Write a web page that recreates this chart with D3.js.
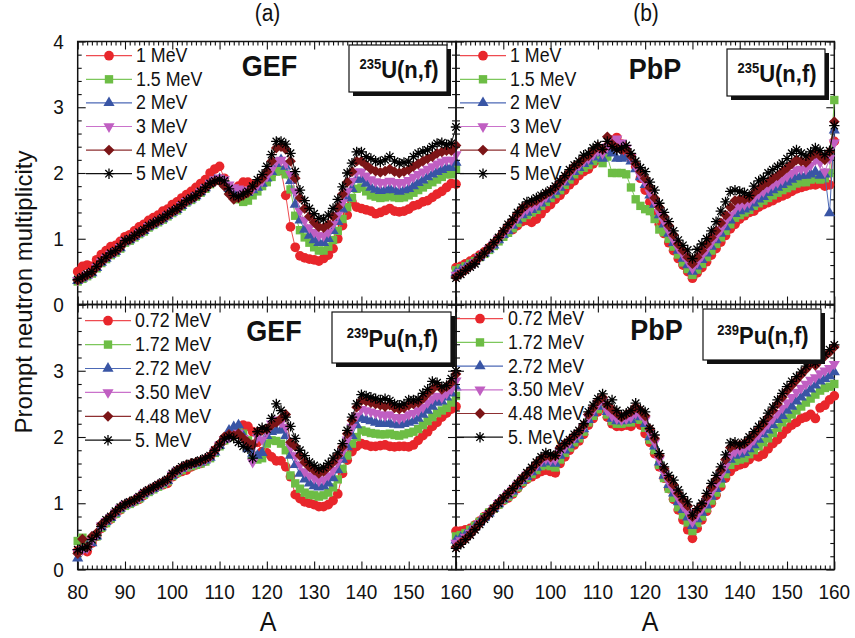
<!DOCTYPE html>
<html>
<head>
<meta charset="utf-8">
<script src="https://cdn.jsdelivr.net/npm/d3@7"></script>
<style>
  body { margin: 0; background: #fff; }
  text { font-family: "Liberation Sans", Arial, sans-serif; fill: #111; }
</style>
</head>
<body>
<script>
// mass number A = 80 ... 160, one value per A
const massA = d3.range(80, 161);

const energiesU = ["1 MeV", "1.5 MeV", "2 MeV", "3 MeV", "4 MeV", "5 MeV"];
const energiesPu = ["0.72 MeV", "1.72 MeV", "2.72 MeV", "3.50 MeV", "4.48 MeV", "5. MeV"];
const xTicksLeft = [80, 90, 100, 110, 120, 130, 140, 150, 160];
const xTicksRight = [90, 100, 110, 120, 130, 140, 150, 160];
const yTicksTop = [0, 1, 2, 3, 4];
const yTicksBottom = [0, 1, 2, 3];

// ---- GEF, 235U(n,f)
const gefU_1 = [0.50,0.58,0.60,0.58,0.68,0.76,0.82,0.88,0.90,0.96,
  1.03,1.06,1.12,1.18,1.22,1.28,1.32,1.36,1.42,1.45,
  1.52,1.56,1.62,1.67,1.72,1.78,1.84,1.90,2.00,2.06,
  2.10,1.92,1.74,1.70,1.80,1.86,1.86,1.82,1.82,1.88,
  1.92,1.98,2.06,2.04,1.66,1.18,0.87,0.74,0.71,0.69,
  0.68,0.66,0.70,0.75,0.85,1.00,1.20,1.36,1.56,1.48,
  1.46,1.44,1.42,1.38,1.40,1.43,1.46,1.42,1.41,1.42,
  1.45,1.50,1.52,1.56,1.58,1.63,1.68,1.72,1.78,1.84,
  1.83];
const gefU_15 = [0.35,0.39,0.43,0.47,0.55,0.63,0.69,0.75,0.79,0.85,
  0.94,0.97,1.02,1.07,1.11,1.17,1.21,1.25,1.29,1.34,
  1.39,1.43,1.49,1.55,1.59,1.64,1.70,1.76,1.83,1.88,
  1.90,1.84,1.72,1.66,1.60,1.56,1.58,1.66,1.72,1.80,
  1.86,1.94,2.02,2.04,1.98,1.75,1.35,1.13,1.02,0.94,
  0.87,0.82,0.82,0.88,0.98,1.12,1.30,1.48,1.62,1.76,
  1.78,1.72,1.66,1.64,1.62,1.63,1.65,1.63,1.62,1.63,
  1.66,1.70,1.74,1.78,1.82,1.86,1.90,1.94,1.98,1.98,
  2.06];
const gefU_2 = [0.36,0.40,0.44,0.48,0.56,0.64,0.70,0.76,0.80,0.86,
  0.95,0.98,1.03,1.08,1.12,1.18,1.22,1.26,1.30,1.35,
  1.40,1.44,1.50,1.56,1.60,1.65,1.71,1.77,1.84,1.89,
  1.91,1.86,1.76,1.72,1.70,1.68,1.70,1.74,1.78,1.84,
  1.92,2.02,2.14,2.20,2.10,1.88,1.52,1.28,1.14,1.05,
  0.98,0.94,0.94,1.00,1.12,1.26,1.45,1.62,1.76,1.90,
  1.90,1.84,1.78,1.75,1.73,1.74,1.76,1.74,1.72,1.74,
  1.76,1.80,1.85,1.89,1.94,1.98,2.02,2.05,2.08,2.08,
  2.16];
const gefU_3 = [0.37,0.41,0.45,0.49,0.57,0.65,0.71,0.77,0.81,0.87,
  0.96,0.99,1.04,1.09,1.13,1.19,1.23,1.27,1.31,1.36,
  1.41,1.45,1.51,1.57,1.61,1.66,1.72,1.78,1.85,1.90,
  1.93,1.90,1.82,1.78,1.76,1.74,1.72,1.76,1.82,1.88,
  1.95,2.05,2.18,2.20,2.15,1.98,1.72,1.42,1.28,1.17,
  1.10,1.05,1.05,1.10,1.22,1.36,1.55,1.72,1.88,2.02,
  2.02,1.96,1.90,1.87,1.85,1.86,1.88,1.86,1.84,1.86,
  1.89,1.94,1.98,2.02,2.06,2.10,2.14,2.17,2.20,2.20,
  2.28];
const gefU_4 = [0.37,0.41,0.45,0.49,0.57,0.65,0.71,0.77,0.81,0.87,
  0.96,0.99,1.04,1.09,1.13,1.19,1.23,1.27,1.31,1.36,
  1.41,1.45,1.51,1.57,1.61,1.65,1.71,1.77,1.83,1.87,
  1.88,1.80,1.68,1.60,1.62,1.66,1.70,1.80,1.86,1.92,
  2.02,2.18,2.38,2.40,2.36,2.18,1.92,1.62,1.46,1.34,
  1.25,1.18,1.17,1.22,1.34,1.48,1.68,1.86,2.02,2.18,
  2.18,2.12,2.06,2.03,2.01,2.03,2.06,2.02,2.00,2.02,
  2.05,2.10,2.14,2.18,2.22,2.25,2.30,2.32,2.34,2.34,
  2.42];
const gefU_5 = [0.38,0.42,0.46,0.50,0.58,0.66,0.72,0.78,0.82,0.88,
  0.97,1.00,1.05,1.10,1.14,1.20,1.24,1.28,1.32,1.37,
  1.42,1.46,1.52,1.58,1.62,1.66,1.72,1.78,1.84,1.88,
  1.90,1.88,1.76,1.66,1.64,1.68,1.72,1.80,1.90,1.98,
  2.10,2.28,2.48,2.48,2.44,2.30,2.02,1.74,1.58,1.46,
  1.38,1.31,1.30,1.36,1.46,1.60,1.79,2.00,2.15,2.32,
  2.32,2.25,2.22,2.18,2.17,2.20,2.25,2.18,2.15,2.16,
  2.17,2.25,2.30,2.33,2.35,2.40,2.45,2.46,2.43,2.45,
  2.70];

// ---- PbP, 235U(n,f)
const pbpU_1 = [0.56,0.58,0.62,0.66,0.70,0.75,0.80,0.86,0.92,0.98,
  1.04,1.10,1.14,1.20,1.26,1.28,1.25,1.30,1.38,1.46,
  1.52,1.60,1.66,1.74,1.82,1.88,1.96,2.02,2.06,2.14,
  2.20,2.30,2.40,2.50,2.54,2.44,2.32,2.22,2.10,1.92,
  1.74,1.56,1.38,1.22,1.08,0.94,0.82,0.70,0.60,0.50,
  0.40,0.48,0.56,0.65,0.75,0.85,0.95,1.05,1.15,1.22,
  1.30,1.35,1.40,1.42,1.48,1.52,1.55,1.58,1.62,1.65,
  1.68,1.72,1.76,1.78,1.80,1.82,1.82,1.84,1.80,1.82,
  2.48];
const pbpU_15 = [0.52,0.55,0.58,0.62,0.66,0.72,0.77,0.83,0.89,0.96,
  1.03,1.09,1.16,1.24,1.32,1.36,1.40,1.44,1.50,1.56,
  1.62,1.68,1.74,1.82,1.90,1.98,2.04,2.08,2.12,2.18,
  2.22,2.15,2.25,2.00,2.00,2.00,1.98,1.78,1.60,1.50,
  1.45,1.42,1.30,1.14,1.10,1.00,0.88,0.76,0.64,0.54,
  0.45,0.53,0.62,0.72,0.82,0.92,1.02,1.12,1.22,1.32,
  1.36,1.40,1.44,1.50,1.54,1.58,1.62,1.66,1.70,1.74,
  1.77,1.80,1.84,1.86,1.86,1.90,1.92,1.90,1.92,2.00,
  3.11];
const pbpU_2 = [0.48,0.52,0.56,0.60,0.65,0.72,0.78,0.84,0.90,0.98,
  1.06,1.12,1.20,1.28,1.36,1.40,1.44,1.48,1.54,1.60,
  1.66,1.72,1.78,1.86,1.94,2.02,2.08,2.14,2.18,2.24,
  2.30,2.22,2.34,2.30,2.22,2.22,2.24,2.18,2.06,1.94,
  1.82,1.66,1.52,1.36,1.22,1.08,0.94,0.82,0.70,0.60,
  0.50,0.58,0.68,0.78,0.88,0.98,1.08,1.18,1.28,1.38,
  1.42,1.45,1.48,1.54,1.60,1.64,1.70,1.74,1.78,1.82,
  1.86,1.90,1.94,1.96,1.96,1.98,2.02,1.96,1.98,1.39,
  2.65];
const pbpU_3 = [0.45,0.49,0.54,0.59,0.64,0.72,0.78,0.85,0.92,1.00,
  1.08,1.16,1.24,1.32,1.40,1.45,1.48,1.52,1.58,1.64,
  1.70,1.76,1.82,1.90,1.98,2.06,2.12,2.18,2.22,2.28,
  2.34,2.30,2.40,2.48,2.52,2.46,2.38,2.24,2.10,1.96,
  1.86,1.70,1.56,1.40,1.26,1.12,0.98,0.86,0.76,0.66,
  0.55,0.64,0.74,0.84,0.94,1.04,1.14,1.26,1.36,1.46,
  1.50,1.52,1.55,1.62,1.68,1.72,1.78,1.82,1.86,1.90,
  1.95,2.00,2.05,2.06,2.06,2.12,2.20,2.16,2.02,2.22,
  2.46];
const pbpU_4 = [0.42,0.47,0.52,0.58,0.64,0.72,0.79,0.86,0.94,1.02,
  1.11,1.20,1.28,1.38,1.46,1.52,1.55,1.58,1.63,1.68,
  1.72,1.78,1.86,1.94,2.02,2.10,2.15,2.22,2.26,2.34,
  2.40,2.36,2.55,2.44,2.38,2.36,2.36,2.26,2.14,2.02,
  1.92,1.78,1.62,1.48,1.34,1.20,1.06,0.92,0.82,0.72,
  0.62,0.72,0.82,0.92,1.02,1.12,1.24,1.36,1.48,1.58,
  1.60,1.60,1.62,1.70,1.76,1.82,1.86,1.92,1.96,2.02,
  2.08,2.14,2.20,2.18,2.16,2.24,2.30,2.26,2.20,2.32,
  2.78];
const pbpU_5 = [0.40,0.46,0.52,0.57,0.62,0.72,0.78,0.86,0.94,1.02,
  1.12,1.22,1.30,1.40,1.48,1.56,1.58,1.62,1.66,1.70,
  1.74,1.80,1.88,1.96,2.05,2.12,2.18,2.27,2.30,2.38,
  2.43,2.36,2.48,2.40,2.35,2.38,2.42,2.30,2.18,2.08,
  2.02,1.86,1.74,1.54,1.40,1.26,1.12,0.98,0.90,0.83,
  0.70,0.84,0.92,1.00,1.12,1.26,1.42,1.56,1.72,1.74,
  1.72,1.70,1.66,1.80,1.88,1.92,2.00,2.05,2.10,2.15,
  2.22,2.30,2.35,2.30,2.26,2.32,2.38,2.34,2.28,2.34,
  2.72];

// ---- GEF, 239Pu(n,f)
const gefPu_072 = [0.28,0.30,0.27,0.40,0.50,0.62,0.70,0.76,0.84,0.90,
  0.97,1.00,1.03,1.06,1.12,1.18,1.22,1.26,1.28,1.30,
  1.40,1.45,1.48,1.50,1.55,1.58,1.60,1.64,1.70,1.80,
  1.88,1.95,2.00,2.05,2.10,2.18,2.16,2.08,1.92,1.78,
  1.76,1.70,1.64,1.64,1.55,1.40,1.13,1.07,1.02,1.00,
  0.98,0.95,0.95,0.98,1.04,1.14,1.45,1.65,1.78,1.86,
  1.90,1.88,1.86,1.86,1.87,1.88,1.86,1.85,1.86,1.86,
  1.85,1.88,1.95,2.02,2.08,2.16,2.22,2.30,2.36,2.42,
  2.46];
const gefPu_172 = [0.43,0.48,0.40,0.42,0.50,0.63,0.70,0.77,0.84,0.91,
  0.96,0.99,1.03,1.07,1.13,1.17,1.21,1.25,1.29,1.33,
  1.41,1.46,1.50,1.54,1.56,1.58,1.60,1.63,1.68,1.76,
  1.86,1.95,2.00,2.05,2.08,2.05,1.95,1.72,1.66,1.68,
  1.90,1.95,1.94,1.90,1.80,1.42,1.30,1.22,1.16,1.13,
  1.12,1.10,1.12,1.16,1.24,1.36,1.52,1.72,1.90,2.00,
  2.10,2.08,2.06,2.05,2.04,2.04,2.05,2.03,2.02,2.04,
  2.06,2.08,2.12,2.18,2.24,2.30,2.36,2.40,2.44,2.52,
  2.62];
const gefPu_272 = [0.17,0.30,0.35,0.40,0.50,0.64,0.72,0.78,0.85,0.92,
  0.97,1.00,1.04,1.08,1.14,1.18,1.22,1.26,1.30,1.34,
  1.42,1.48,1.52,1.56,1.58,1.60,1.62,1.65,1.69,1.77,
  1.87,1.96,2.10,2.15,2.18,2.02,1.82,1.75,1.72,1.76,
  2.02,2.08,2.10,2.10,2.02,1.72,1.58,1.45,1.36,1.30,
  1.26,1.24,1.26,1.30,1.38,1.50,1.66,1.85,2.02,2.18,
  2.28,2.26,2.24,2.22,2.20,2.20,2.21,2.19,2.18,2.20,
  2.22,2.24,2.28,2.34,2.40,2.46,2.52,2.54,2.60,2.66,
  2.75];
const gefPu_350 = [0.26,0.30,0.32,0.44,0.52,0.66,0.73,0.79,0.86,0.93,
  0.98,1.01,1.04,1.09,1.15,1.19,1.23,1.27,1.31,1.35,
  1.43,1.49,1.53,1.57,1.59,1.61,1.63,1.66,1.70,1.78,
  1.88,1.96,2.00,2.04,2.06,1.98,1.90,1.62,2.00,1.96,
  2.08,2.20,2.26,2.22,2.15,1.85,1.72,1.58,1.48,1.42,
  1.38,1.34,1.36,1.42,1.50,1.62,1.78,1.96,2.15,2.32,
  2.42,2.40,2.38,2.36,2.34,2.32,2.34,2.30,2.28,2.30,
  2.34,2.36,2.40,2.45,2.52,2.58,2.62,2.60,2.66,2.72,
  2.85];
const gefPu_448 = [0.24,0.46,0.34,0.50,0.55,0.68,0.74,0.80,0.87,0.94,
  0.98,1.02,1.05,1.10,1.16,1.20,1.24,1.28,1.32,1.36,
  1.44,1.50,1.54,1.58,1.60,1.62,1.64,1.67,1.71,1.80,
  1.90,2.00,2.04,2.02,2.05,1.98,1.92,1.88,2.08,2.10,
  2.12,2.18,2.22,2.28,2.34,1.92,1.86,1.72,1.62,1.55,
  1.50,1.45,1.48,1.55,1.62,1.72,1.85,2.05,2.25,2.45,
  2.55,2.54,2.52,2.50,2.48,2.46,2.48,2.44,2.42,2.44,
  2.48,2.50,2.52,2.58,2.66,2.72,2.78,2.72,2.76,2.82,
  2.95];
const gefPu_5 = [0.30,0.32,0.34,0.45,0.52,0.65,0.75,0.80,0.88,0.94,
  0.99,1.02,1.05,1.10,1.16,1.20,1.24,1.28,1.32,1.36,
  1.45,1.50,1.55,1.58,1.60,1.62,1.65,1.68,1.72,1.80,
  1.88,1.97,2.01,1.98,1.92,1.86,1.82,1.68,2.08,2.14,
  2.12,2.28,2.50,2.40,2.30,2.16,1.98,1.80,1.72,1.62,
  1.57,1.52,1.54,1.60,1.68,1.76,1.90,2.10,2.30,2.50,
  2.64,2.62,2.60,2.58,2.56,2.58,2.55,2.50,2.48,2.50,
  2.56,2.56,2.57,2.66,2.72,2.84,2.82,2.76,2.78,2.88,
  3.00];

// ---- PbP, 239Pu(n,f)
const pbpPu_072 = [0.58,0.58,0.60,0.62,0.67,0.73,0.80,0.86,0.92,0.98,
  1.04,1.08,1.14,1.22,1.30,1.36,1.40,1.44,1.48,1.50,
  1.48,1.46,1.60,1.70,1.80,1.88,1.94,2.04,2.18,2.28,
  2.38,2.44,2.30,2.20,2.16,2.16,2.18,2.16,2.22,2.18,
  2.05,1.92,1.75,1.55,1.38,1.22,1.06,0.90,0.75,0.60,
  0.47,0.62,0.75,0.88,1.00,1.12,1.25,1.38,1.48,1.55,
  1.58,1.60,1.66,1.72,1.70,1.74,1.82,1.90,1.96,2.04,
  2.12,2.18,2.22,2.28,2.30,2.34,2.28,2.44,2.48,2.56,
  2.62];
const pbpPu_172 = [0.50,0.52,0.55,0.60,0.66,0.72,0.79,0.86,0.92,0.98,
  1.05,1.10,1.16,1.24,1.32,1.38,1.44,1.50,1.56,1.58,
  1.56,1.54,1.66,1.76,1.84,1.92,1.98,2.08,2.22,2.32,
  2.42,2.48,2.34,2.24,2.20,2.20,2.22,2.22,2.28,2.26,
  2.14,1.96,1.80,1.58,1.38,1.22,1.08,0.94,0.82,0.71,
  0.58,0.70,0.80,0.92,1.04,1.16,1.30,1.44,1.58,1.64,
  1.66,1.68,1.74,1.80,1.86,1.92,1.98,2.06,2.14,2.22,
  2.28,2.34,2.40,2.46,2.52,2.58,2.64,2.70,2.74,2.76,
  2.80];
const pbpPu_272 = [0.44,0.48,0.52,0.57,0.64,0.71,0.78,0.85,0.92,0.99,
  1.06,1.12,1.18,1.26,1.34,1.40,1.47,1.54,1.60,1.64,
  1.62,1.60,1.72,1.80,1.88,1.96,2.02,2.12,2.26,2.36,
  2.46,2.52,2.38,2.28,2.24,2.24,2.25,2.26,2.32,2.30,
  2.20,2.00,1.86,1.62,1.42,1.28,1.15,1.02,0.90,0.79,
  0.66,0.76,0.86,0.97,1.10,1.22,1.36,1.50,1.66,1.72,
  1.74,1.76,1.82,1.88,1.96,2.04,2.10,2.18,2.26,2.32,
  2.40,2.46,2.54,2.60,2.66,2.72,2.78,2.84,2.88,2.92,
  2.98];
const pbpPu_350 = [0.40,0.44,0.49,0.55,0.62,0.70,0.77,0.84,0.92,1.00,
  1.07,1.14,1.20,1.28,1.36,1.43,1.50,1.57,1.64,1.68,
  1.66,1.66,1.78,1.85,1.92,1.99,2.05,2.15,2.30,2.40,
  2.50,2.55,2.40,2.32,2.28,2.26,2.28,2.30,2.36,2.34,
  2.26,2.06,1.92,1.66,1.46,1.32,1.20,1.08,0.96,0.86,
  0.72,0.82,0.92,1.03,1.16,1.28,1.42,1.56,1.72,1.78,
  1.80,1.82,1.88,1.96,2.04,2.12,2.20,2.28,2.36,2.44,
  2.52,2.60,2.68,2.74,2.80,2.86,2.90,2.96,3.00,3.04,
  3.10];
const pbpPu_448 = [0.34,0.40,0.46,0.53,0.61,0.69,0.77,0.85,0.93,1.01,
  1.08,1.15,1.22,1.30,1.38,1.45,1.52,1.60,1.67,1.72,
  1.70,1.72,1.84,1.90,1.95,2.02,2.08,2.18,2.34,2.44,
  2.54,2.60,2.48,2.42,2.36,2.30,2.34,2.38,2.46,2.40,
  2.32,2.12,1.98,1.72,1.52,1.38,1.28,1.15,1.05,0.96,
  0.80,0.90,0.98,1.10,1.24,1.36,1.50,1.66,1.84,1.88,
  1.88,1.90,1.96,2.04,2.12,2.20,2.30,2.40,2.50,2.60,
  2.70,2.78,2.86,2.94,3.02,3.10,3.08,3.16,3.22,3.28,
  3.36];
const pbpPu_5 = [0.32,0.38,0.45,0.52,0.60,0.68,0.76,0.84,0.92,1.00,
  1.08,1.15,1.22,1.30,1.38,1.46,1.54,1.62,1.70,1.76,
  1.74,1.72,1.82,1.90,1.96,2.04,2.10,2.20,2.38,2.48,
  2.58,2.65,2.50,2.56,2.40,2.32,2.36,2.40,2.51,2.42,
  2.38,2.13,2.03,1.75,1.55,1.42,1.35,1.20,1.10,1.02,
  0.82,0.92,1.00,1.15,1.30,1.42,1.55,1.73,1.91,1.92,
  1.88,1.92,2.00,2.08,2.16,2.24,2.36,2.45,2.56,2.66,
  2.76,2.84,2.91,2.98,3.07,3.14,3.12,3.19,3.25,3.32,
  3.39];

// ---------------------------------------------------------------
const W = 855, H = 638;
const svg = d3.select('body').append('svg').attr('width', W).attr('height', H);

const markColors = ['#e8262b', '#6dbd45', '#3955a5', '#c05fc2', '#7c1517', '#000000'];
const lineColors = ['#ee4b50', '#7dc75b', '#4c69b6', '#ca72cb', '#8e2f31', '#111111'];

// marker shapes: circle, square, triangle up, triangle down, diamond, asterisk
const markerPaths = [
  d3.symbol(d3.symbolCircle, 74)(),
  d3.symbol(d3.symbolSquare, 70)(),
  d3.symbol(d3.symbolTriangle, 54)(),
  d3.symbol(d3.symbolTriangle, 54)(),
  d3.symbol(d3.symbolSquare, 58)(),
  'M0,-5.2L0,5.2M-5.2,0L5.2,0M-3.7,-3.7L3.7,3.7M-3.7,3.7L3.7,-3.7'
];
const markerRot = [0, 0, 0, 180, 45, 0];

function addText(parent, x, y, str, size, opts = {}) {
  return parent.append('text')
    .attr('transform', `translate(${x},${y}) scale(1,${opts.sy || 1.1})`)
    .attr('font-size', size)
    .attr('text-anchor', opts.anchor || 'start')
    .attr('font-weight', opts.bold ? 'bold' : null)
    .text(str);
}

function drawMarker(sel, i) {
  sel.attr('d', markerPaths[i]);
  if (i === 5) {
    sel.attr('fill', 'none').attr('stroke', markColors[i]).attr('stroke-width', 1.3);
  } else {
    sel.attr('fill', markColors[i]).attr('stroke', 'none');
  }
}

function drawPanel(cfg) {
  const x = d3.scaleLinear().domain([80, 160]).range([cfg.x0, cfg.x1]);
  const y = d3.scaleLinear().domain([0, 4]).range([cfg.y1, cfg.y0]);
  const g = svg.append('g');

  const minorX = d3.range(80, 161).filter(v => v % 10 !== 0);
  const minorY = d3.range(0, 20).map(v => v * 0.2).filter((v, k) => k % 5 !== 0);

  function ticks(axis, tr, vals, len) {
    const a = g.append('g').attr('transform', tr)
      .call(axis.tickValues(vals).tickSize(-len).tickFormat(''));
    a.select('.domain').remove();
    a.selectAll('line').attr('stroke', '#111').attr('stroke-width', 1.1);
  }
  // major + minor ticks on all four sides, pointing inwards
  ticks(d3.axisBottom(x), `translate(0,${cfg.y1})`, xTicksLeft, 8);
  ticks(d3.axisBottom(x), `translate(0,${cfg.y1})`, minorX, 4);
  ticks(d3.axisTop(x), `translate(0,${cfg.y0})`, xTicksLeft, 8);
  ticks(d3.axisTop(x), `translate(0,${cfg.y0})`, minorX, 4);
  ticks(d3.axisLeft(y), `translate(${cfg.x0},0)`, yTicksTop, 8);
  ticks(d3.axisLeft(y), `translate(${cfg.x0},0)`, minorY, 4);
  ticks(d3.axisRight(y), `translate(${cfg.x1},0)`, yTicksTop, 8);
  ticks(d3.axisRight(y), `translate(${cfg.x1},0)`, minorY, 4);

  // frame
  g.append('rect')
    .attr('x', cfg.x0).attr('y', cfg.y0)
    .attr('width', cfg.x1 - cfg.x0).attr('height', cfg.y1 - cfg.y0)
    .attr('fill', 'none').attr('stroke', '#111').attr('stroke-width', 1.5);

  // tick labels
  if (cfg.xLabels) {
    cfg.xLabels.forEach(v => addText(g, x(v), cfg.y1 + 29, v, 19, { anchor: 'middle' }));
  }
  if (cfg.yLabels) {
    cfg.yLabels.forEach(v => addText(g, cfg.x0 - 14, y(v) + 7, v, 19, { anchor: 'end' }));
  }

  // series: line first, then markers, red at the bottom, black on top
  cfg.series.forEach((vals, i) => {
    const pts = massA.map((a, j) => [a, vals[j]]);
    g.append('path').datum(pts)
      .attr('d', d3.line().x(d => x(d[0])).y(d => y(d[1])))
      .attr('fill', 'none').attr('stroke', lineColors[i]).attr('stroke-width', 1);
    g.append('g').selectAll('path').data(pts).join('path')
      .attr('transform', d => `translate(${x(d[0])},${y(d[1])}) rotate(${markerRot[i]})`)
      .call(drawMarker, i);
  });

  // legend
  const lg = g.append('g');
  cfg.names.forEach((name, i) => {
    const ry = cfg.leg.y0 + i * cfg.leg.dy;
    lg.append('line')
      .attr('x1', cfg.leg.lx).attr('x2', cfg.leg.lx + 46)
      .attr('y1', ry).attr('y2', ry)
      .attr('stroke', lineColors[i]).attr('stroke-width', 1.2);
    lg.append('path')
      .attr('transform', `translate(${cfg.leg.lx + 23},${ry}) rotate(${markerRot[i]})`)
      .call(drawMarker, i);
    addText(lg, cfg.leg.tx, ry + 6.5, name, 17.8);
  });

  // model name
  addText(g, cfg.model.x, cfg.model.y, cfg.model.text, 27, { anchor: 'middle', bold: true });

  // reaction box with shadow
  const b = cfg.box;
  g.append('rect').attr('x', b.x + 4).attr('y', b.y + 4).attr('width', b.w).attr('height', b.h).attr('fill', '#111');
  g.append('rect').attr('x', b.x).attr('y', b.y).attr('width', b.w).attr('height', b.h)
    .attr('fill', '#fff').attr('stroke', '#111').attr('stroke-width', 1.2);
  const t = g.append('text')
    .attr('transform', `translate(${b.x + b.w / 2 + 1},${b.y + b.h / 2 + 9}) scale(1,1.1)`)
    .attr('text-anchor', 'middle').attr('font-weight', 'bold');
  t.append('tspan').attr('font-size', 13).attr('dy', -8).text(b.iso);
  t.append('tspan').attr('font-size', 22).attr('dy', 8).text(b.reac);
}

drawPanel({
  x0: 77.7, x1: 456, y0: 41.5, y1: 304.5,
  series: [gefU_1, gefU_15, gefU_2, gefU_3, gefU_4, gefU_5],
  names: energiesU, yLabels: yTicksTop,
  leg: { lx: 86, tx: 136, y0: 55.7, dy: 23.6 },
  model: { text: 'GEF', x: 269.5, y: 76 },
  box: { x: 349, y: 45, w: 98, h: 47, iso: '235', reac: 'U(n,f)' }
});
drawPanel({
  x0: 456, x1: 834.3, y0: 41.5, y1: 304.5,
  series: [pbpU_1, pbpU_15, pbpU_2, pbpU_3, pbpU_4, pbpU_5],
  names: energiesU,
  leg: { lx: 460, tx: 510, y0: 55.7, dy: 23.6 },
  model: { text: 'PbP', x: 655, y: 79 },
  box: { x: 727, y: 49, w: 98, h: 47, iso: '235', reac: 'U(n,f)' }
});
drawPanel({
  x0: 77.7, x1: 456, y0: 304.5, y1: 569.5,
  series: [gefPu_072, gefPu_172, gefPu_272, gefPu_350, gefPu_448, gefPu_5],
  names: energiesPu, yLabels: yTicksBottom, xLabels: xTicksLeft,
  leg: { lx: 85, tx: 135, y0: 320.7, dy: 23.9 },
  model: { text: 'GEF', x: 274, y: 341 },
  box: { x: 332, y: 312, w: 119, h: 51, iso: '239', reac: 'Pu(n,f)' }
});
drawPanel({
  x0: 456, x1: 834.3, y0: 304.5, y1: 569.5,
  series: [pbpPu_072, pbpPu_172, pbpPu_272, pbpPu_350, pbpPu_448, pbpPu_5],
  names: energiesPu, xLabels: xTicksRight,
  leg: { lx: 457, tx: 508, y0: 318.7, dy: 23.7 },
  model: { text: 'PbP', x: 656.5, y: 340 },
  box: { x: 703, y: 309, w: 118, h: 51, iso: '239', reac: 'Pu(n,f)' }
});

// titles
addText(svg, 267.5, 21, '(a)', 21, { anchor: 'middle' });
addText(svg, 646, 21, '(b)', 21, { anchor: 'middle' });
addText(svg, 268, 631, 'A', 25, { anchor: 'middle' });
addText(svg, 650, 631, 'A', 25, { anchor: 'middle' });
svg.append('text')
  .attr('transform', 'translate(32,292) rotate(-90)')
  .attr('font-size', 24).attr('text-anchor', 'middle')
  .text('Prompt neutron multiplicity');
</script>
</body>
</html>
